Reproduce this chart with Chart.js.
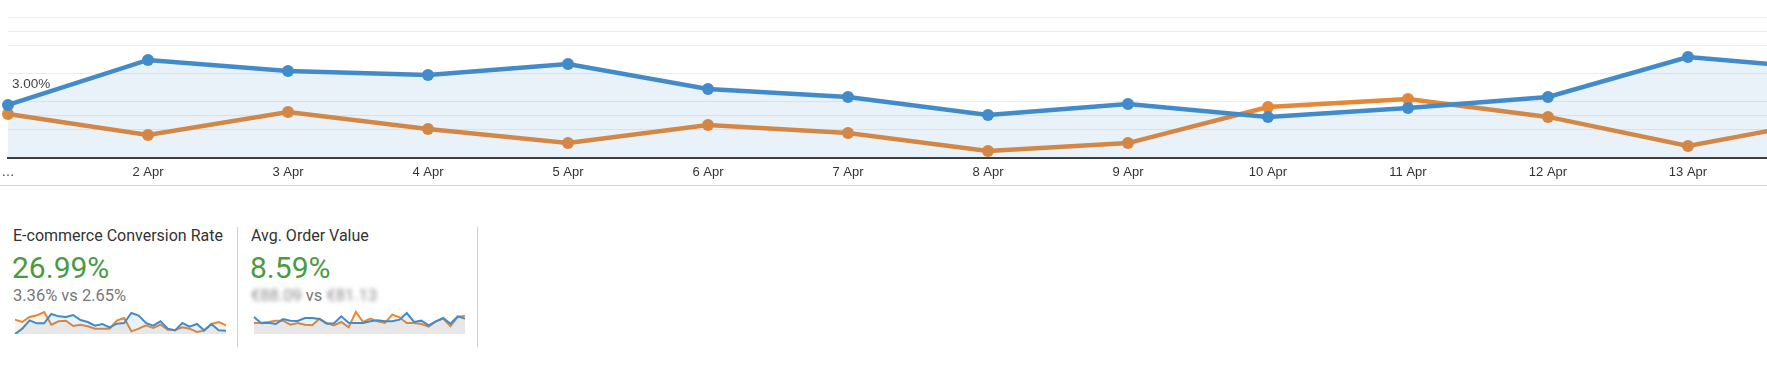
<!DOCTYPE html>
<html>
<head>
<meta charset="utf-8">
<title>Conversion Rate</title>
<script src="https://cdn.jsdelivr.net/npm/chart.js@4.4.0/dist/chart.umd.min.js"></script>
<style>
  html, body { margin: 0; padding: 0; background: #fff; overflow: hidden; width: 1767px; height: 388px; }
  body { position: relative; font-family: Roboto, Arial, sans-serif; }
  #grafico { position: absolute; left: 0; top: 0; }
  .linha-base { position: absolute; left: 0; top: 185px; width: 1767px; height: 1px; background: #d6d6d6; }
  .separador { position: absolute; top: 227px; width: 1px; height: 120px; background: #d0d0d0; }
  .titulo { position: absolute; top: 226px; font-size: 16px; line-height: 19px; color: #333; white-space: nowrap; }
  .valor { position: absolute; top: 251px; font-size: 30px; line-height: 34px; color: #4b9a3f; white-space: nowrap; }
  .compara { position: absolute; top: 286px; font-size: 16.5px; line-height: 20px; color: #777; white-space: nowrap; }
  .borrado { filter: blur(2.2px); color: #8a8a8a; }
  .spark { position: absolute; top: 308px; }
</style>
</head>
<body>

<canvas id="grafico" width="1836" height="184"></canvas>
<div class="linha-base"></div>

<div class="titulo" style="left:13px">E-commerce Conversion Rate</div>
<div class="valor" style="left:12px">26.99%</div>
<div class="compara" style="left:13px">3.36% vs 2.65%</div>
<canvas id="spark1" class="spark" style="left:14px" width="213" height="27"></canvas>
<div class="separador" style="left:237px"></div>

<div class="titulo" style="left:251px">Avg. Order Value</div>
<div class="valor" style="left:250px">8.59%</div>
<div class="compara" style="left:251px"><span class="borrado">€88.09</span> vs <span class="borrado">€81.13</span></div>
<canvas id="spark2" class="spark" style="left:253px" width="213" height="27"></canvas>
<div class="separador" style="left:477px"></div>

<script>
/*************  dados  ****************/
// eixo dos dias (o primeiro rotulo aparece cortado como "…")
const dias = ['…', '2 Apr', '3 Apr', '4 Apr', '5 Apr', '6 Apr', '7 Apr', '8 Apr', '9 Apr', '10 Apr', '11 Apr', '12 Apr', '13 Apr', '14 Apr']

// taxa de conversao (%) - periodo atual (azul) e anterior (laranja)
const taxaAtual    = [2.84, 5.25, 4.66, 4.45, 5.03, 3.70, 3.27, 2.30, 2.89, 2.20, 2.68, 3.27, 5.41, 4.77]
const taxaAnterior = [2.36, 1.23, 2.46, 1.55, 0.80, 1.77, 1.34, 0.37, 0.80, 2.73, 3.16, 2.20, 0.64, 2.04]

// linhas da grelha horizontal e o unico rotulo visivel
const linhasGrelha = [1.5, 2.3, 3, 4.5, 6, 6.75, 7.5]
const valorRotulo = 3
const textoRotulo = '3.00%'

// mini graficos (30 dias, escala relativa)
const sparkConvAtual    = [0, 16, 41, 32, 32, 60, 53, 51, 57, 42, 36, 25, 30, 20, 31, 33, 63, 55, 33, 25, 38, 16, 11, 33, 22, 30, 11, 30, 11, 10]
const sparkConvAnterior = [43, 36, 51, 56, 66, 28, 38, 40, 24, 28, 23, 16, 16, 16, 40, 48, 8, 16, 26, 18, 28, 13, 12, 20, 16, 6, 10, 30, 36, 26]
const sparkPedidoAtual    = [51, 32, 34, 30, 45, 40, 39, 48, 48, 45, 31, 32, 53, 34, 33, 33, 38, 41, 38, 38, 43, 63, 36, 40, 26, 38, 48, 31, 53, 46]
const sparkPedidoAnterior = [33, 34, 36, 40, 40, 28, 33, 28, 26, 46, 33, 26, 36, 20, 66, 36, 46, 38, 33, 58, 50, 33, 33, 30, 22, 38, 46, 23, 51, 55]

/*************  cores  ****************/
const azul = 'rgb(66, 139, 202)'
const laranja = 'rgb(230, 135, 55)'
const azulFill = 'rgba(66, 139, 202, 0.11)'
const laranjaFill = 'rgba(230, 135, 55, 0.10)'

Chart.defaults.font.family = 'Arial, "Liberation Sans", sans-serif'
Chart.defaults.color = '#333'

/*************  grafico principal  ****************/
new Chart(document.getElementById('grafico'), {
    type: 'line',
    data: {
        labels: dias,
        datasets: [
            {
                data: taxaAtual,
                borderColor: azul,
                backgroundColor: azulFill,
                pointBackgroundColor: azul,
                borderWidth: 4.5,
                pointRadius: 6,
                pointBorderWidth: 0,
                fill: 'origin',
                clip: 10
            },
            {
                data: taxaAnterior,
                borderColor: laranja,
                pointBackgroundColor: laranja,
                borderWidth: 4.5,
                pointRadius: 6,
                pointBorderWidth: 0,
                fill: false,
                clip: 10
            }
        ]
    },
    options: {
        responsive: false,
        animation: false,
        layout: { padding: { left: 8, right: 8, top: 0, bottom: 0 } },
        plugins: { legend: { display: false }, tooltip: { enabled: false } },
        scales: {
            x: {
                grid: { display: false, drawTicks: false },
                border: { display: true, color: '#3a3a3a', width: 2 },
                ticks: { padding: 7, maxRotation: 0, autoSkip: false, font: { size: 13 }, color: '#333' },
                afterFit: s => { s.height = 26; s.paddingLeft = 0; s.paddingRight = 0 }
            },
            y: {
                min: 0,
                max: 8.14,
                grid: { color: '#ececec', lineWidth: 1, drawTicks: false },
                border: { display: false },
                afterBuildTicks: s => { s.ticks = linhasGrelha.map(v => ({ value: v })) },
                ticks: {
                    mirror: true,
                    padding: 4,
                    labelOffset: -18,
                    font: { size: 13.5 },
                    color: '#444',
                    callback: v => v === valorRotulo ? textoRotulo : ''
                },
                afterFit: s => { s.width = 0; s.paddingTop = 0; s.paddingBottom = 0 }
            }
        }
    }
})

/*************  mini graficos  ****************/
function criaSparkline(id, atual, anterior){
    const labels = atual.map((_, i) => i + 1)
    new Chart(document.getElementById(id), {
        type: 'line',
        data: {
            labels: labels,
            datasets: [
                { data: atual, borderColor: azul, backgroundColor: azulFill, borderWidth: 2, pointRadius: 0, fill: 'origin' },
                { data: anterior, borderColor: laranja, backgroundColor: laranjaFill, borderWidth: 2, pointRadius: 0, fill: 'origin' }
            ]
        },
        options: {
            responsive: false,
            animation: false,
            layout: { padding: { left: 1, right: 1, top: 0, bottom: 1 } },
            plugins: { legend: { display: false }, tooltip: { enabled: false } },
            scales: {
                x: { display: false },
                y: { display: false, min: 0, max: 78 }
            }
        }
    })
}

criaSparkline('spark1', sparkConvAtual, sparkConvAnterior)
criaSparkline('spark2', sparkPedidoAtual, sparkPedidoAnterior)
</script>
</body>
</html>
